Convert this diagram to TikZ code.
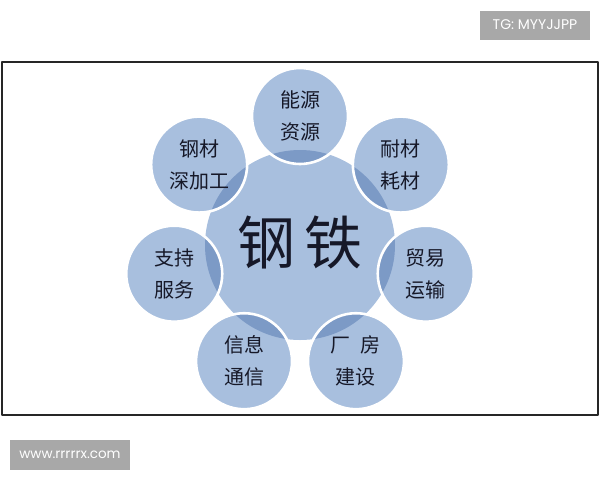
\documentclass[tikz,border=0pt]{standalone}
\usepackage{fontspec}
\setmainfont{Poppins}
\newfontfamily\cjk{Noto Sans CJK SC}
\usetikzlibrary{calc}

\definecolor{petal}{RGB}{168,191,222}
\definecolor{lens}{RGB}{124,154,198}
\definecolor{ink}{RGB}{22,24,40}
\definecolor{tag}{RGB}{168,168,168}

\tikzset{
  petaltext/.style={align=center, text=ink, font=\cjk\fontsize{20}{32}\selectfont},
  tagbox/.style={fill=tag, text=white, inner sep=0pt, font=\fontsize{14}{14}\selectfont}
}

\begin{document}
\begin{tikzpicture}[x=1pt, y=-1pt, line cap=round, line join=round]
    % Variables for easy adjustment
    \def\R{129}  % distance of the petals from the centre
    \def\r{48}   % petal radius
    \def\rc{95}  % centre radius

    \useasboundingbox (0,0) rectangle (600,480);

    % Outer frame
    \draw[line width=1.6pt, black!85] (2,62) rectangle (598,415);

    % Centre disc
    \coordinate (c) at (300,245);
    \fill[petal] (c) circle (\rc);

    % Petals, clockwise on the page from the top
    \foreach \i/\one/\two in {0/能源/资源, 1/钢材/深加工, 2/支持/服务, 3/信息/通信,
                              4/厂\enspace 房/建设, 5/贸易/运输, 6/耐材/耗材} {
        \pgfmathsetmacro\a{270-\i*360/7}
        \coordinate (p\i) at ($(c)+(\a:\R)$);
        \fill[petal] (p\i) circle (\r);
        % darker overlap with the centre
        \begin{scope}
            \clip (c) circle (\rc);
            \fill[lens] (p\i) circle (\r);
        \end{scope}
        \draw[white, line width=2.6pt] (p\i) circle (\r);
        \node[petaltext] (t\i) at (p\i) {\one\\\two};
    }

    % Centre label
    \node[text=ink, font=\cjk\fontsize{58}{58}\selectfont] (steel) at (300,242) {钢\hspace{9pt}铁};

    % Tags
    \node[tagbox, minimum width=110pt, minimum height=29pt] (tg) at (535,25) {TG: MYYJJPP};
    \node[tagbox, minimum width=120pt, minimum height=30pt, font=\fontsize{13.5}{13.5}\selectfont] (site) at (70,455) {www.rrrrrx.com};

\end{tikzpicture}
\end{document}
